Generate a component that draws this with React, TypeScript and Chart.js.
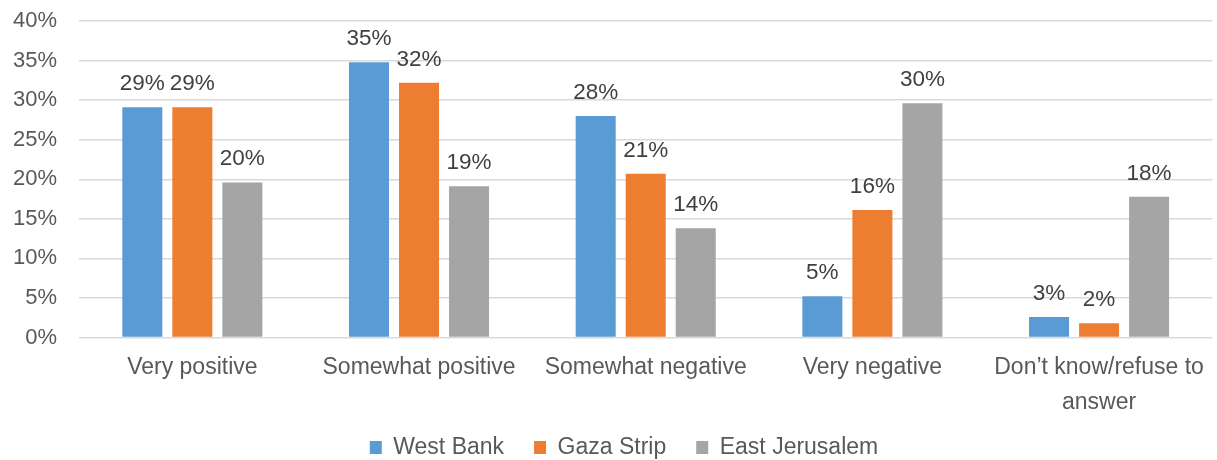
import { useEffect, useRef } from 'react';
import { Chart, registerables } from 'chart.js';

Chart.register(...registerables);

const categories: (string | string[])[] = [
  'Very positive',
  'Somewhat positive',
  'Somewhat negative',
  'Very negative',
  ['Don’t know/refuse to', 'answer'],
];
const seriesNames = ['West Bank', 'Gaza Strip', 'East Jerusalem'];
const westBank = [29.1, 34.8, 28.0, 5.2, 2.6];
const gazaStrip = [29.1, 32.2, 20.7, 16.1, 1.8];
const eastJerusalem = [19.6, 19.1, 13.8, 29.6, 17.8];
const seriesColors = ['#5B9BD5', '#ED7D31', '#A5A5A5'];
const yMin = 0;
const yMax = 40;
const yStep = 5;

const FONT = '"Liberation Sans", Arial, Helvetica, sans-serif';

const dataLabelPlugin = {
  id: 'barValueLabels',
  afterDatasetsDraw(chart: any) {
    const ctx = chart.ctx;
    ctx.save();
    ctx.font = `22.5px ${FONT}`;
    ctx.fillStyle = '#404040';
    ctx.textAlign = 'center';
    ctx.textBaseline = 'alphabetic';
    chart.data.datasets.forEach((ds: any, i: number) => {
      const meta = chart.getDatasetMeta(i);
      meta.data.forEach((bar: any, j: number) => {
        const v = ds.data[j] as number;
        ctx.fillText(`${Math.round(v)}%`, bar.x, bar.y - 17);
      });
    });
    ctx.restore();
  },
};

// nudges the legend box: a little to the right and up, like the original
const legendOffsetPlugin = {
  id: 'legendOffset',
  afterLayout(chart: any) {
    const lg = chart.legend;
    if (!lg) return;
    lg.left += 32;
    lg.top -= 5.5;
    lg.bottom -= 5.5;
  },
};

export default function App() {
  const canvasRef = useRef<HTMLCanvasElement | null>(null);

  useEffect(() => {
    document.body.style.margin = '0';
    const canvas = canvasRef.current;
    if (!canvas) return;
    const seriesData = [westBank, gazaStrip, eastJerusalem];
    const chart = new Chart(canvas, {
      type: 'bar',
      data: {
        labels: categories as any,
        datasets: seriesNames.map((name, i) => ({
          label: name,
          data: seriesData[i],
          backgroundColor: seriesColors[i],
          borderWidth: 0,
          barPercentage: 0.8,
          categoryPercentage: 0.662,
        })),
      },
      options: {
        responsive: false,
        animation: false,
        events: [],
        layout: { padding: { left: 0, right: 1, top: 21, bottom: -14.5 } },
        plugins: {
          tooltip: { enabled: false },
          legend: {
            position: 'bottom',
            align: 'center',
            labels: {
              boxWidth: 12,
              boxHeight: 13,
              padding: 30,
              color: '#595959',
              font: { family: FONT, size: 23 },
            },
          },
        },
        scales: {
          x: {
            grid: { display: false, drawTicks: false },
            border: { display: false },
            ticks: {
              color: '#595959',
              padding: 13,
              maxRotation: 0,
              autoSkip: false,
              font: { family: FONT, size: 23, lineHeight: '35px' as any },
            },
            afterFit(scale: any) {
              scale.height = 74;
            },
          },
          y: {
            min: yMin,
            max: yMax,
            grid: {
              color: '#d9d9d9',
              lineWidth: 1.5,
              drawTicks: true,
              tickLength: 22,
              tickColor: 'rgba(0,0,0,0)',
            },
            border: { display: false },
            ticks: {
              stepSize: yStep,
              padding: 0,
              color: '#595959',
              font: { family: FONT, size: 22 },
              callback: (v: any) => `${v}%`,
            },
            afterFit(scale: any) {
              scale.width = 79;
            },
          },
        },
      },
      plugins: [dataLabelPlugin, legendOffsetPlugin],
    });
    return () => chart.destroy();
  }, []);

  return (
    <div style={{ width: 1217, height: 460 }}>
      <canvas ref={canvasRef} width={1217} height={460} />
    </div>
  );
}
